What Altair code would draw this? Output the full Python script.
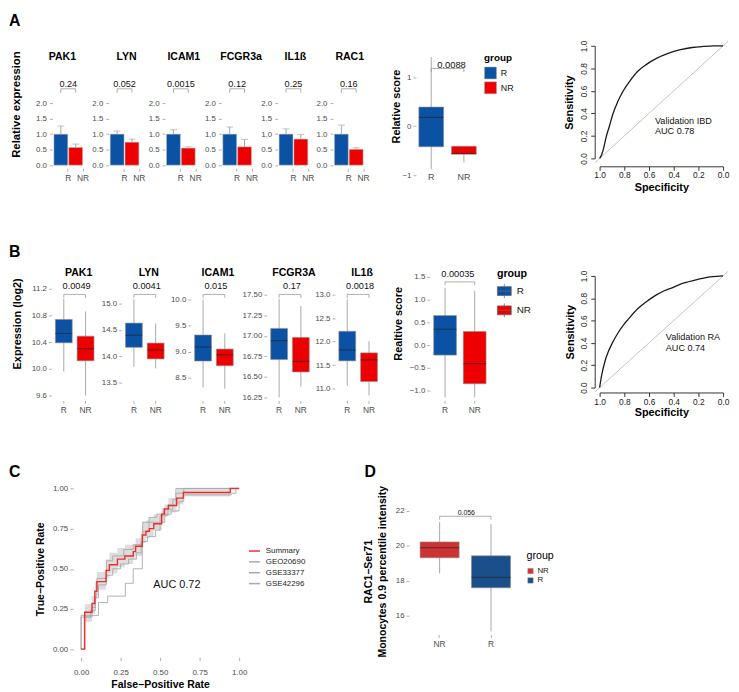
import altair as alt
import pandas as pd

FONT = "Liberation Sans"
BLUE, RED = "#0B52A5", "#EE0000"
D_RED, D_BLUE = "#CD3333", "#1B4F8B"
TXT = "#4D4D4D"
TICK = "#B0B0B0"

groups = ["R", "NR"]

# ---------------- A: relative expression bars ----------------
genes_a = ["PAK1", "LYN", "ICAM1", "FCGR3a", "IL1ß", "RAC1"]
p_a = ["0.24", "0.052", "0.0015", "0.12", "0.25", "0.16"]
mean_r_a = [1.0, 1.0, 1.0, 1.0, 1.0, 1.0]
mean_nr_a = [0.57, 0.74, 0.55, 0.59, 0.84, 0.51]
err_r_a = [0.26, 0.10, 0.14, 0.23, 0.17, 0.29]
err_nr_a = [0.11, 0.10, 0.04, 0.24, 0.15, 0.05]
ticks_a = [0.0, 0.5, 1.0, 1.5, 2.0]

# ---------------- A: relative score box (lo, q1, med, q3, hi) ----------------
score_a_r = [-0.88, -0.42, 0.18, 0.39, 1.41]
score_a_nr = [-0.74, -0.57, -0.56, -0.41, -0.41]
p_score_a = "0.0088"
ticks_score_a = [-1, 0, 1]

# ---------------- ROC curves ----------------
roc_ticks = [0.0, 0.2, 0.4, 0.6, 0.8, 1.0]
roc_diag = [-0.04, 1.04]
spec_a = [1.0, 0.985, 0.97, 0.947, 0.92, 0.894, 0.855, 0.814, 0.76, 0.695, 0.62, 0.536, 0.45, 0.345, 0.25, 0.159, 0.08, 0.0]
sens_a = [0.0, 0.03, 0.08, 0.19, 0.29, 0.39, 0.50, 0.59, 0.68, 0.77, 0.835, 0.89, 0.93, 0.965, 0.985, 0.994, 0.999, 1.0]
roc_text_a = ["Validation IBD", "AUC 0.78"]
spec_b = [1.0, 0.99, 0.981, 0.955, 0.93, 0.902, 0.849, 0.80, 0.769, 0.69, 0.61, 0.54, 0.477, 0.40, 0.345, 0.28, 0.212, 0.15, 0.106, 0.05, 0.0]
sens_b = [0.0, 0.07, 0.124, 0.242, 0.32, 0.389, 0.493, 0.57, 0.611, 0.708, 0.779, 0.83, 0.867, 0.90, 0.926, 0.948, 0.968, 0.982, 0.991, 0.997, 1.0]
roc_text_b = ["Validation RA", "AUC 0.74"]

# ---------------- B: expression boxes (lo, q1, med, q3, hi) ----------------
genes_b = ["PAK1", "LYN", "ICAM1", "FCGR3A", "IL1ß"]
p_b = ["0.0049", "0.0041", "0.015", "0.17", "0.0018"]
box_r_b = [[9.96, 10.39, 10.53, 10.74, 11.05],
           [13.80, 14.17, 14.40, 14.63, 15.08],
           [8.31, 8.82, 9.09, 9.32, 10.0],
           [16.25, 16.71, 16.94, 17.09, 17.45],
           [11.06, 11.59, 11.82, 12.22, 12.90]]
box_nr_b = [[9.60, 10.12, 10.30, 10.49, 10.86],
            [13.77, 13.95, 14.12, 14.25, 14.62],
            [8.29, 8.73, 8.94, 9.05, 9.35],
            [16.38, 16.56, 16.69, 16.98, 17.36],
            [10.85, 11.15, 11.61, 11.76, 12.01]]
ticks_b = [[9.6, 10.0, 10.4, 10.8, 11.2],
           [13.5, 14.0, 14.5, 15.0],
           [8.5, 9.0, 9.5, 10.0],
           [16.25, 16.5, 16.75, 17.0, 17.25, 17.5],
           [11.0, 11.5, 12.0, 12.5, 13.0]]
score_b_r = [-1.15, -0.22, 0.35, 0.65, 1.26]
score_b_nr = [-1.15, -0.85, -0.41, 0.30, 1.20]
p_score_b = "0.00035"
ticks_score_b = [-1.0, -0.5, 0.0, 0.5, 1.0, 1.5]

# ---------------- C: summary ROC ----------------
c_series = ["Summary", "GEO20690", "GSE33377", "GSE42296"]
sum_fpr = [0.0, 0.023, 0.069, 0.087, 0.10, 0.158, 0.179, 0.23, 0.277, 0.33, 0.345, 0.387, 0.41, 0.432, 0.46, 0.51, 0.528, 0.553, 0.605, 0.647, 0.944, 1.0]
sum_tpr = [0.0, 0.23, 0.284, 0.36, 0.42, 0.49, 0.525, 0.56, 0.58, 0.607, 0.64, 0.71, 0.734, 0.75, 0.78, 0.84, 0.873, 0.893, 0.94, 0.975, 1.0, 1.0]
band_lo = [0.0, 0.17, 0.22, 0.31, 0.37, 0.44, 0.47, 0.51, 0.53, 0.56, 0.58, 0.66, 0.69, 0.70, 0.74, 0.79, 0.83, 0.85, 0.90, 0.95, 0.99, 1.0]
band_hi = [0.0, 0.28, 0.33, 0.42, 0.48, 0.56, 0.60, 0.63, 0.65, 0.65, 0.69, 0.79, 0.80, 0.82, 0.84, 0.88, 0.90, 0.94, 1.0, 1.0, 1.0, 1.0]
geo_fpr = [0.0, 0.0, 0.06, 0.09, 0.10, 0.16, 0.20, 0.27, 0.33, 0.39, 0.43, 0.48, 0.52, 0.58, 0.60, 1.0]
geo_tpr = [0.0, 0.20, 0.24, 0.33, 0.44, 0.55, 0.58, 0.62, 0.65, 0.79, 0.82, 0.84, 0.87, 0.93, 1.0, 1.0]
gse33_fpr = [0.0, 0.02, 0.07, 0.09, 0.11, 0.16, 0.20, 0.25, 0.30, 0.35, 0.38, 0.42, 0.47, 0.50, 0.53, 0.57, 0.62, 0.65, 0.95, 0.98, 1.0]
gse33_tpr = [0.0, 0.20, 0.26, 0.32, 0.40, 0.46, 0.50, 0.53, 0.56, 0.60, 0.67, 0.70, 0.74, 0.79, 0.84, 0.86, 0.92, 0.96, 0.97, 1.0, 1.0]
gse42_fpr = [0.0, 0.0, 0.11, 0.168, 0.28, 0.33, 0.387, 0.43, 0.50, 0.55, 0.60, 0.65, 1.0]
gse42_tpr = [0.0, 0.21, 0.29, 0.33, 0.41, 0.50, 0.73, 0.79, 0.83, 0.90, 0.97, 1.0, 1.0]
c_ticks = [0.0, 0.25, 0.5, 0.75, 1.0]
auc_c = "AUC 0.72"

# ---------------- D: RAC1-Ser71 boxes ----------------
groups_d = ["NR", "R"]
rac1_nr = [18.42, 19.32, 19.89, 20.23, 21.36]
rac1_r = [15.1, 17.6, 18.2, 19.43, 21.25]
p_d = "0.056"
ticks_d = [16, 18, 20, 22]

# ================= layout constants (page pixels) =================
OY = 8          # top of every view
HT = 676        # height of every view (whole figure)
views = []      # each view is 1 px wide; view k starts at x = 8 + k


def txt(t, x, y, size, ox, bold=False, align="center", color="#111111", angle=None, baseline="middle"):
    kw = dict(font=FONT, fontSize=size, align=align, baseline=baseline, color=color)
    if bold:
        kw["fontWeight"] = "bold"
    if angle is not None:
        kw["angle"] = angle
    return alt.Chart(pd.DataFrame({"t": [t]})).mark_text(**kw).encode(
        text="t:N", x=alt.value(x - ox), y=alt.value(y - OY))


def letter(t, x, y, ox):
    return txt(t, x, y, 16, ox, bold=True, align="left", color="black", baseline="top")


def ytitle_kw(text, cx, cy, L, size=11):
    return dict(title=text, titleX=cx - L, titleY=cy - OY, titleAngle=270, titleAlign="center",
                titleBaseline="middle", titleFontSize=size, titleFontWeight="bold", titleColor="black")


def box_panel(ox, order, stats, fills, L, T, W, H, ydom, yvals, yfmt, band, ann,
              ytitle=None, legend=None, extra=(), xaxis_y=None, xax_extra=None):
    pi, po, al = band
    step = W / (2 - pi + 2 * po)
    bw = step * (1 - pi)
    x0 = L - ox
    df = pd.DataFrame({"grp": order,
                       "lo": [s[0] for s in stats], "q1": [s[1] for s in stats],
                       "med": [s[2] for s in stats], "q3": [s[3] for s in stats],
                       "hi": [s[4] for s in stats], "fill": fills})
    ax_y = xaxis_y if xaxis_y is not None else T + H
    xkw = dict(labelAngle=0, domain=False, tickSize=3, tickColor=TICK, labelFontSize=8.5,
               labelColor=TXT, labelPadding=2, title=None, offset=(ax_y - OY) - HT)
    if xax_extra:
        xkw.update(xax_extra)
    xenc = alt.X("grp:N", sort=order,
                 scale=alt.Scale(range=[x0, x0 + W], paddingInner=pi, paddingOuter=po, align=al),
                 axis=alt.Axis(**xkw))
    ykw = dict(values=yvals, format=yfmt, domain=False, tickSize=3, tickColor=TICK,
               labelFontSize=8, labelColor=TXT, labelPadding=2, offset=-x0)
    if ytitle:
        ykw.update(ytitle_kw(ytitle[0], ytitle[1], ytitle[2], L))
    else:
        ykw["title"] = None
    yax = alt.Axis(**ykw)
    ysc = alt.Scale(domain=ydom, range=[T + H - OY, T - OY], nice=False, zero=False)

    def Y(f):
        return alt.Y(f + ":Q", scale=ysc, axis=yax)

    base = alt.Chart(df)
    whisk = base.mark_rule(color="#A8A8A8", strokeWidth=1).encode(x=xenc, y=Y("lo"), y2="hi:Q")
    if legend is None:
        col = alt.Color("fill:N", scale=None)
    else:
        lkw, lx, ly = legend
        col = alt.Color("grp:N", sort=order, scale=alt.Scale(domain=order, range=fills),
                        legend=alt.Legend(orient="none", legendX=lx - ox, legendY=ly - OY, **lkw))
    box = base.mark_bar(stroke="#8C8C8C", strokeWidth=0.6).encode(x=xenc, y=Y("q1"), y2="q3:Q", color=col)
    med = base.mark_tick(orient="horizontal", size=bw, thickness=1, color="#222222",
                         opacity=0.7).encode(x=xenc, y=Y("med"))
    layers = [whisk, box, med]
    if "title" in ann:
        t, cx, cy, fs = ann["title"]
        layers.append(txt(t, cx, cy, fs, ox, bold=True, color="black"))
    t, cx, cy, fs = ann["p"]
    layers.append(txt(t, cx, cy, fs, ox))
    by, by2 = ann["br"]
    layers.append(base.mark_line(color="#9A9A9A", strokeWidth=0.8).encode(x=xenc, y=alt.value(by - OY)))
    layers.append(base.mark_rule(color="#9A9A9A", strokeWidth=0.8).encode(
        x=xenc, y=alt.value(by - OY), y2=alt.value(by2 - OY)))
    layers.extend(extra)
    return alt.layer(*layers).properties(width=1, height=HT)


# ================= panel A bars =================
bars_left = [52, 109, 166, 223, 280, 336]
title_dx_a = [10, 18, 19, 20, 18, 17]


def bars_panel(i, ox):
    L, T, W, H = bars_left[i], 99, 32, 66
    x0 = L - ox
    df = pd.DataFrame({"grp": groups, "mean": [mean_r_a[i], mean_nr_a[i]],
                       "up": [mean_r_a[i] + err_r_a[i], mean_nr_a[i] + err_nr_a[i]],
                       "fill": [BLUE, RED]})
    xenc = alt.X("grp:N", sort=groups,
                 scale=alt.Scale(range=[x0, x0 + W], paddingInner=0.067, paddingOuter=0.1),
                 axis=alt.Axis(title=None, labelAngle=0, tickOffset=7, tickSize=3, tickColor=TICK,
                               domain=False, labelFontSize=8.5, labelColor=TXT, labelPadding=2,
                               offset=(T + H - OY) - HT))
    ykw = dict(values=ticks_a, format=".1f", domain=False, tickSize=3, tickColor=TICK,
               labelFontSize=8, labelColor=TXT, labelPadding=3, offset=-x0)
    if i == 0:
        ykw.update(ytitle_kw("Relative expression", 16, 100, L, 11.5))
    else:
        ykw["title"] = None
    yax = alt.Axis(**ykw)
    ysc = alt.Scale(domain=[-0.1, 2.0], range=[T + H - OY, T - OY], nice=False, zero=False)
    base = alt.Chart(df)
    bars = base.mark_bar(stroke="#BBBBBB", strokeWidth=0.5).encode(
        x=xenc, y=alt.Y("mean:Q", scale=ysc, axis=yax), y2=alt.datum(0),
        color=alt.Color("fill:N", scale=None))
    err = base.mark_rule(color="#A6A6A6", strokeWidth=1).encode(
        x=xenc, y=alt.Y("mean:Q", scale=ysc, axis=yax), y2="up:Q")
    cap = base.mark_tick(orient="horizontal", size=7, thickness=1, color="#A6A6A6").encode(
        x=xenc, y=alt.Y("up:Q", scale=ysc, axis=yax))
    br = base.mark_line(color="#9A9A9A", strokeWidth=0.8).encode(x=xenc, y=alt.value(84.5 - OY))
    legs = base.mark_rule(color="#9A9A9A", strokeWidth=0.8).encode(
        x=xenc, y=alt.value(84.5 - OY), y2=alt.value(88.5 - OY))
    layers = [bars, err, cap, br, legs,
              txt(genes_a[i], L + title_dx_a[i], 52, 10.7, ox, bold=True, color="black"),
              txt(p_a[i], L + 16, 79.5, 9.2, ox)]
    if i == 0:
        layers.append(letter("A", 8, 8, ox))
    return alt.layer(*layers).properties(width=1, height=HT)


# ================= ROC panels =================
def roc_panel(ox, spec, sens, texts, L, T, W, H, xaxis_y, yaxis_x, xlabpad, xtitlepad,
              ytitlepad, tx, ty):
    x0 = L - ox
    df = pd.DataFrame({"spec": spec, "sens": sens})
    dg = pd.DataFrame({"spec": roc_diag[::-1], "sens": roc_diag})
    xsc = alt.Scale(domain=[0, 1], range=[x0 + W, x0], nice=False, zero=False)
    ysc = alt.Scale(domain=[0, 1], range=[T + H - OY, T - OY], nice=False, zero=False)
    common = dict(values=roc_ticks, format=".1f", domain=True, domainColor="#333333",
                  domainWidth=1, ticks=True, tickColor="#333333", tickSize=4,
                  labelFontSize=8.5, labelColor="#222222", titleFontSize=11,
                  titleFontWeight="bold", titleColor="black")
    xax = alt.Axis(offset=(xaxis_y - OY) - HT, labelPadding=xlabpad, labelFlush=False,
                   title="Specificity", titlePadding=xtitlepad, **common)
    yax = alt.Axis(offset=-(yaxis_x - ox), labelPadding=2, labelAngle=270, labelAlign="center",
                   labelBaseline="bottom", title="Sensitivity", titlePadding=ytitlepad, **common)
    X = alt.X("spec:Q", scale=xsc, axis=xax)
    Y = alt.Y("sens:Q", scale=ysc, axis=yax)
    diag = alt.Chart(dg).mark_line(color="#C4C4C4", strokeWidth=1).encode(x=X, y=Y)
    curve = alt.Chart(df).mark_line(color="#1A1A1A", strokeWidth=1.3, interpolate="monotone").encode(
        x=X, y=Y, order=alt.Order("spec:Q", sort="descending"))
    t1 = txt(texts[0], tx, ty, 9.2, ox, align="left")
    t2 = txt(texts[1], tx, ty + 10.7, 9.2, ox, align="left")
    return alt.layer(diag, curve, t1, t2).properties(width=1, height=HT)


# ================= panel C =================
def panel_c(ox):
    L, T, W, H = 73, 481, 176, 179
    x0 = L - ox
    xsc = alt.Scale(domain=[-0.05, 1.05], range=[x0, x0 + W], nice=False, zero=False)
    ysc = alt.Scale(domain=[-0.05, 1.05], range=[T + H - OY, T - OY], nice=False, zero=False)
    axkw = dict(values=c_ticks, format=".2f", domain=False, tickSize=3.5, tickColor=TICK,
                labelFontSize=8, labelColor=TXT, titleFontSize=10.6, titleFontWeight="bold",
                titleColor="black")
    xax = alt.Axis(title="False−Positive Rate", labelPadding=8, titlePadding=3, labelFlush=False,
                   offset=(T + H - OY) - HT, **axkw)
    yax = alt.Axis(title="True−Positive Rate", labelPadding=2, titlePadding=7, offset=-x0, **axkw)
    X = alt.X("fpr:Q", scale=xsc, axis=xax)
    dfb = pd.DataFrame({"fpr": sum_fpr, "lo": band_lo, "hi": band_hi})
    band = alt.Chart(dfb).mark_area(interpolate="step-after", color="#D9D9D9", opacity=0.9).encode(
        x=X, y=alt.Y("lo:Q", scale=ysc, axis=yax), y2="hi:Q")
    rows = []
    for name, fx, fy in [("GEO20690", geo_fpr, geo_tpr), ("GSE33377", gse33_fpr, gse33_tpr),
                         ("GSE42296", gse42_fpr, gse42_tpr)]:
        for k, (a, b) in enumerate(zip(fx, fy)):
            rows.append({"ds": name, "fpr": a, "tpr": b, "k": k})
    dfl = pd.DataFrame(rows)
    dfs = pd.DataFrame({"ds": "Summary", "fpr": sum_fpr, "tpr": sum_tpr, "k": list(range(len(sum_fpr)))})
    cs = alt.Scale(domain=c_series, range=["#EE2C2C", "#A8A8A8", "#A8A8A8", "#A8A8A8"])
    leg = alt.Legend(title=None, orient="none", legendX=250 - ox, legendY=546 - OY, symbolType="stroke",
                     symbolSize=121, symbolStrokeWidth=1.5, labelFontSize=8, labelColor="#222222",
                     rowPadding=0, labelOffset=5)
    col = alt.Color("ds:N", scale=cs, legend=leg)
    grey = alt.Chart(dfl).mark_line(interpolate="step-after", strokeWidth=0.9).encode(
        x=X, y=alt.Y("tpr:Q", scale=ysc, axis=yax), color=col, order="k:Q")
    summ = alt.Chart(dfs).mark_line(interpolate="step-after", strokeWidth=1.4).encode(
        x=X, y=alt.Y("tpr:Q", scale=ysc, axis=yax), color=col, order="k:Q")
    layers = [band, grey, summ, txt(auc_c, 178, 587, 11, ox),
              letter("C", 8, 465, ox), letter("D", 368, 465, ox)]
    return alt.layer(*layers).properties(width=1, height=HT)


def ox():
    return 8 + len(views)


# ---- Row A ----
for i in range(6):
    views.append(bars_panel(i, ox()))

o = ox()
views.append(box_panel(
    o, groups, [score_a_r, score_a_nr], [BLUE, RED], 420, 48, 70, 124, [-1.0, 1.5],
    ticks_score_a, "d", (0.2424, 0.18, 0.25),
    {"p": (p_score_a, 456, 60, 9.5), "br": (64, 67.7)},
    ytitle=("Relative score", 400, 102),
    xaxis_y=169, xax_extra=dict(ticks=False, labelPadding=0, labelFontSize=9),
    legend=(dict(title="group", symbolType="square", symbolSize=144, symbolStrokeColor="#9A9A9A",
                 symbolStrokeWidth=0.5, titleFontSize=10, titleFontWeight="bold",
                 titleColor="black", labelFontSize=9, labelColor="#111111", rowPadding=0,
                 titlePadding=4, labelOffset=4), 489, 48)))

o = ox()
views.append(roc_panel(o, spec_a, sens_a, roc_text_a, 606, 41, 125, 114, 163, 601, 0.5, 2, 5, 662, 117))

# ---- Row B ----
doms_b = [[9.526, 11.304], [13.1625, 15.4125], [8.063, 10.342], [16.214, 17.656], [10.747, 13.274]]
fmts_b = [".1f", ".1f", ".1f", ".2f", ".1f"]
left_b = [51, 122, 192, 269, 338]
for i in range(5):
    o = ox()
    L = left_b[i]
    views.append(box_panel(
        o, groups, [box_r_b[i], box_nr_b[i]], [BLUE, RED], L, 280, 47, 120, doms_b[i],
        ticks_b[i], fmts_b[i], (0.227, 0.18, 0.5),
        {"title": (genes_b[i], L + 27.5, 271.5, 10.7), "p": (p_b[i], L + 25.5, 284, 9.3),
         "br": (292.7, 296.2)},
        ytitle=("Expression (log2)", 17, 322) if i == 0 else None,
        extra=[letter("B", 8, 242, o)] if i == 0 else ()))

o = ox()
views.append(box_panel(
    o, groups, [score_b_r, score_b_nr], [BLUE, RED], 434, 265, 61, 135, [-1.217, 1.717],
    ticks_score_b, ".1f", (0.233, 0.133, 0.5),
    {"p": (p_score_b, 462.5, 271.7, 9.3), "br": (280, 283.3)},
    ytitle=("Realtive score", 402, 322),
    legend=(dict(title="group", symbolType="M-1,-0.64H1V0.64H-1Z M-1,0H1 M0,-0.64V-1 M0,0.64V1",
                 symbolSize=196, symbolStrokeColor="#666666", symbolStrokeWidth=0.8,
                 titleFontSize=10.8, titleFontWeight="bold", titleColor="black",
                 labelFontSize=10, labelColor="#111111", rowPadding=0.5, titlePadding=5,
                 labelOffset=5), 502, 266)))

o = ox()
views.append(roc_panel(o, spec_b, sens_b, roc_text_b, 606, 274, 125, 113, 392, 601, 1, 1, 4, 673, 336))

# ---- Row C / D ----
views.append(panel_c(ox()))
o = ox()
d_titles = [txt("RAC1−Ser71", 373, 573.5, 10.7, o, bold=True, color="black", angle=270),
            txt("Monocytes 0.9 percentile intensity", 387, 573.5, 10.7, o, bold=True,
                color="black", angle=270)]
views.append(box_panel(
    o, groups_d, [rac1_nr, rac1_r], [D_RED, D_BLUE], 413, 500, 114, 137, [14.925, 22.68],
    ticks_d, "d", (0.24, 0.216, 0.5),
    {"p": (p_d, 471, 514, 7), "br": (517.3, 520.7)},
    legend=(dict(title="group", symbolType="square", symbolSize=30, symbolStrokeColor="#9A9A9A",
                 symbolStrokeWidth=0.5, titleFontSize=10.8, titleFontWeight="normal",
                 titleColor="black", labelFontSize=8, labelColor="#222222", rowPadding=1.5,
                 titlePadding=6, labelOffset=3), 532, 552),
    extra=d_titles))

chart = (alt.hconcat(*views, spacing=0, bounds="flush")
         .resolve_scale(color="independent").resolve_legend(color="independent")
         .properties(padding=0)
         .configure_view(stroke="transparent")
         .configure_axis(grid=False, labelFont=FONT, titleFont=FONT)
         .configure_legend(labelFont=FONT, titleFont=FONT)
         .configure_text(font=FONT))

chart.save("out.html", embed_options={"renderer": "svg", "actions": False})
